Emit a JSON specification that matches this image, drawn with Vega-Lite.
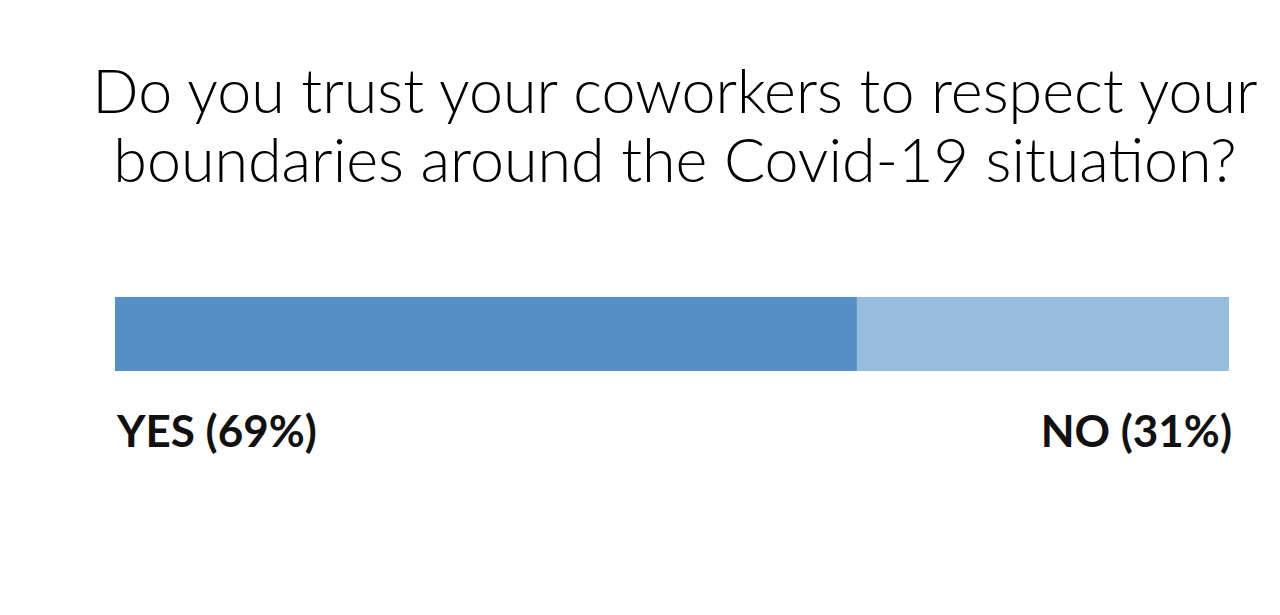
{
  "$schema": "https://vega.github.io/schema/vega-lite/v6.json",
  "autosize": {"type": "none"},
  "width": 1114,
  "height": 82.2,
  "padding": {"left": 115, "top": 293, "right": 51, "bottom": 240},
  "background": "white",
  "title": {
    "text": ["Do you trust your coworkers to respect your", "boundaries around the Covid-19 situation?"],
    "font": "Lato",
    "fontSize": 61,
    "fontWeight": 300,
    "color": "#000000",
    "anchor": "middle",
    "dx": 3,
    "lineHeight": 69,
    "offset": 98
  },
  "data": {
    "values": [
      {"answer": "YES", "label": "YES (69%)", "share": 66.6, "order": 1},
      {"answer": "NO", "label": "NO (31%)", "share": 33.4, "order": 2}
    ]
  },
  "transform": [
    {"stack": "share", "groupby": [], "sort": [{"field": "order"}], "as": ["start", "end"]}
  ],
  "layer": [
    {
      "mark": {"type": "bar"},
      "encoding": {
        "x": {"field": "start", "type": "quantitative", "scale": {"domain": [0, 100], "nice": false}, "axis": null},
        "x2": {"field": "end"},
        "color": {
          "field": "answer",
          "type": "nominal",
          "scale": {"domain": ["YES", "NO"], "range": ["#558fc6", "#97bcdd"]},
          "legend": null
        }
      }
    },
    {
      "transform": [{"filter": "datum.answer === 'YES'"}],
      "mark": {"type": "text", "align": "left", "baseline": "alphabetic", "dx": 2, "dy": 113, "font": "Lato", "fontSize": 44, "fontWeight": "bold", "color": "#111111"},
      "encoding": {
        "x": {"field": "start", "type": "quantitative"},
        "text": {"field": "label"}
      }
    },
    {
      "transform": [{"filter": "datum.answer === 'NO'"}],
      "mark": {"type": "text", "align": "right", "baseline": "alphabetic", "dx": 3, "dy": 113, "font": "Lato", "fontSize": 44, "fontWeight": "bold", "color": "#111111"},
      "encoding": {
        "x": {"field": "end", "type": "quantitative"},
        "text": {"field": "label"}
      }
    }
  ],
  "config": {"view": {"stroke": null}}
}
